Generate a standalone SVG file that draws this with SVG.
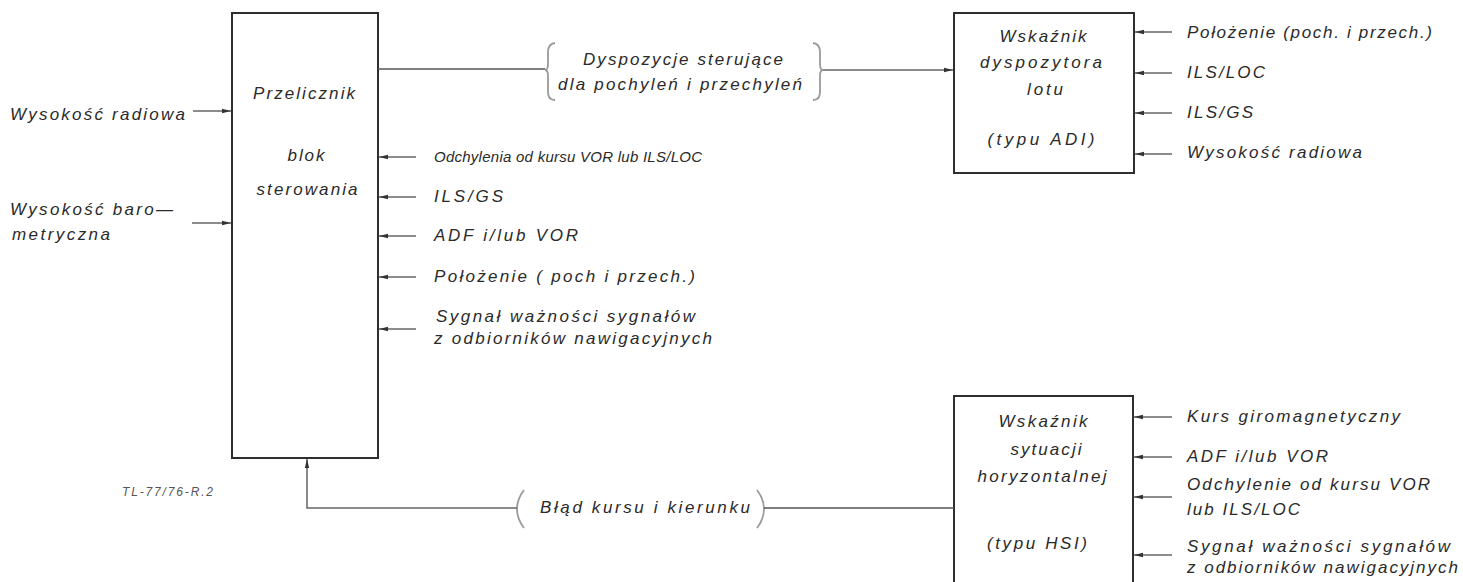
<svg xmlns="http://www.w3.org/2000/svg" width="1463" height="582" viewBox="0 0 1463 582">
<style>
.box{fill:none;stroke:#2e2e2e;stroke-width:2}
.t{font-family:"Liberation Sans",Arial,sans-serif;font-style:italic;font-size:17px;fill:#2a2a2a}
.c{text-anchor:middle}
.ln{fill:none;stroke:#555;stroke-width:1.5}
.arr{fill:none;stroke:#666;stroke-width:1.5;marker-end:url(#ah)}
.br{fill:none;stroke:#9a9a9a;stroke-width:1.8}
.sm{font-family:"Liberation Sans",Arial,sans-serif;font-style:italic;font-size:12px;fill:#555}
</style>
<defs>
<marker id="ah" markerWidth="10" markerHeight="6" refX="9" refY="3" orient="auto" markerUnits="userSpaceOnUse">
<path d="M0,0.8 L9,3 L0,5.2 Z" fill="#333"/>
</marker>
</defs>
<rect width="1463" height="582" fill="#fff"/>
<g id="przelicznik">
<rect class="box" x="232" y="13" width="146" height="445"/>
<text class="t c" x="304" y="99" textLength="102">Przelicznik</text>
<text class="t c" x="306" y="161" textLength="37">blok</text>
<text class="t c" x="307" y="195" textLength="101">sterowania</text>
</g>
<g id="adi">
<rect class="box" x="954" y="13" width="180" height="160"/>
<text class="t c" x="1043" y="42" textLength="87">Wskaźnik</text>
<text class="t c" x="1041" y="68" textLength="122">dyspozytora</text>
<text class="t c" x="1045" y="95" textLength="36">lotu</text>
<text class="t c" x="1041" y="145" textLength="107">(typu ADI)</text>
</g>
<g id="hsi">
<rect class="box" x="954" y="396" width="179" height="200"/>
<text class="t c" x="1043" y="427" textLength="89">Wskaźnik</text>
<text class="t c" x="1046" y="455" textLength="71">sytuacji</text>
<text class="t c" x="1042" y="482" textLength="129">horyzontalnej</text>
<text class="t c" x="1037" y="549" textLength="100">(typu HSI)</text>
</g>
<g id="inputs-left">
<text class="t" x="10" y="120" textLength="175">Wysokość radiowa</text>
<text class="t" x="10" y="215" textLength="163">Wysokość baro—</text>
<text class="t" x="12" y="240" textLength="98">metryczna</text>
</g>
<g id="inputs-przelicznik">
<text class="t" x="434" y="162" style="font-size:15px" textLength="268">Odchylenia od kursu VOR lub ILS/LOC</text>
<text class="t" x="434" y="202" textLength="69">ILS/GS</text>
<text class="t" x="434" y="241" textLength="144">ADF i/lub VOR</text>
<text class="t" x="434" y="282" textLength="261">Położenie ( poch i przech.)</text>
<text class="t" x="436" y="322" textLength="259">Sygnał ważności sygnałów</text>
<text class="t" x="434" y="344" textLength="278">z odbiorników nawigacyjnych</text>
</g>
<g id="inputs-adi">
<text class="t" x="1187" y="38" textLength="245">Położenie (poch. i przech.)</text>
<text class="t" x="1187" y="78" textLength="78">ILS/LOC</text>
<text class="t" x="1187" y="118" textLength="66">ILS/GS</text>
<text class="t" x="1187" y="158" textLength="175">Wysokość radiowa</text>
</g>
<g id="inputs-hsi">
<text class="t" x="1187" y="422" textLength="213">Kurs giromagnetyczny</text>
<text class="t" x="1187" y="462" textLength="141">ADF i/lub VOR</text>
<text class="t" x="1187" y="490" textLength="243">Odchylenie od kursu VOR</text>
<text class="t" x="1187" y="515" textLength="113">lub ILS/LOC</text>
<text class="t" x="1187" y="552" textLength="263">Sygnał ważności sygnałów</text>
<text class="t" x="1187" y="573" textLength="271">z odbiorników nawigacyjnych</text>
</g>
<g id="label-dyspozycje">
<path class="br" d="M555,43 Q548,44 548,52 L548,64 Q548,70 545,70 Q548,70 548,76 L548,92 Q548,100 555,100"/>
<text class="t c" x="683" y="65" textLength="200">Dyspozycje sterujące</text>
<text class="t c" x="680" y="90" textLength="244">dla pochyleń i przechyleń</text>
<path class="br" d="M813,43 Q820,44 820,52 L820,64 Q820,70 823,70 Q820,70 820,76 L820,92 Q820,100 813,100"/>
</g>
<g id="label-blad">
<path class="br" d="M524,490 Q517,499 517,509 Q517,519 524,528"/>
<text class="t" x="540" y="513" textLength="210">Błąd kursu i kierunku</text>
<path class="br" d="M757,490 Q764,499 764,509 Q764,519 757,528"/>
</g>
<text class="sm" x="122" y="496" textLength="91">TL-77/76-R.2</text>
<g id="connectors">
<line class="ln" x1="378" y1="69" x2="545" y2="69"/>
<line class="arr" x1="823" y1="70" x2="953" y2="70"/>
<line class="ln" x1="764" y1="508" x2="954" y2="508"/>
<polyline class="arr" points="517,508 307,508 307,459"/>
<line class="arr" x1="193" y1="111" x2="231" y2="111"/>
<line class="arr" x1="192" y1="223" x2="231" y2="223"/>
<line class="arr" x1="416" y1="157" x2="379" y2="157"/>
<line class="arr" x1="416" y1="197" x2="379" y2="197"/>
<line class="arr" x1="416" y1="236" x2="379" y2="236"/>
<line class="arr" x1="416" y1="277" x2="379" y2="277"/>
<line class="arr" x1="416" y1="329" x2="379" y2="329"/>
<line class="arr" x1="1172" y1="32" x2="1135" y2="32"/>
<line class="arr" x1="1172" y1="73" x2="1135" y2="73"/>
<line class="arr" x1="1172" y1="113" x2="1135" y2="113"/>
<line class="arr" x1="1172" y1="154" x2="1135" y2="154"/>
<line class="arr" x1="1172" y1="417" x2="1134" y2="417"/>
<line class="arr" x1="1172" y1="457" x2="1134" y2="457"/>
<line class="arr" x1="1172" y1="497" x2="1134" y2="497"/>
<line class="arr" x1="1172" y1="555" x2="1134" y2="555"/>
</g>
</svg>
